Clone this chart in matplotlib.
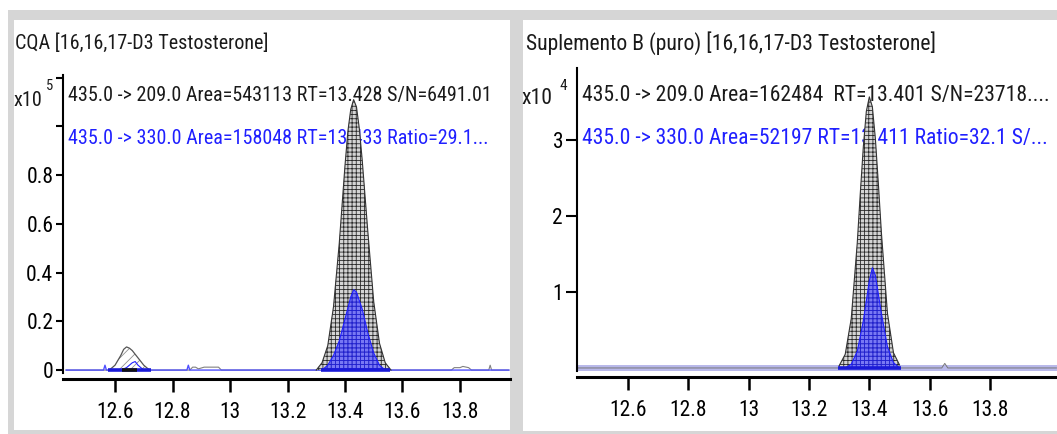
import matplotlib.pyplot as plt
from matplotlib.patches import Rectangle

W, H = 1057, 434
plt.rcParams['font.family'] = ['Roboto Condensed', 'DejaVu Sans']
plt.rcParams['font.stretch'] = 'condensed'
plt.rcParams['hatch.linewidth'] = 0.6

# ---- CQA panel (intensity x10^5) ----
cqa_title = 'CQA [16,16,17-D3 Testosterone]'
cqa_line1 = '435.0 -> 209.0 Area=543113 RT=13.428 S/N=6491.01'
cqa_line2 = '435.0 -> 330.0 Area=158048 RT=13.433 Ratio=29.1...'
cqa_q_t = [13.30, 13.32, 13.34, 13.36, 13.38, 13.40, 13.41, 13.42, 13.43, 13.44, 13.45, 13.46, 13.48, 13.50, 13.52, 13.54, 13.56]
cqa_q_i = [0.00, 0.03, 0.10, 0.26, 0.52, 0.84, 0.98, 1.07, 1.11, 1.08, 0.99, 0.86, 0.56, 0.28, 0.11, 0.03, 0.00]
cqa_ql_t = [13.32, 13.34, 13.36, 13.38, 13.40, 13.42, 13.43, 13.44, 13.46, 13.48, 13.50, 13.52, 13.54]
cqa_ql_i = [0.00, 0.02, 0.06, 0.12, 0.21, 0.30, 0.33, 0.32, 0.25, 0.15, 0.07, 0.02, 0.00]
cqa_small_t = [12.58, 12.60, 12.62, 12.63, 12.64, 12.65, 12.66, 12.68, 12.70, 12.72]
cqa_small_i = [0.00, 0.02, 0.06, 0.085, 0.095, 0.09, 0.08, 0.05, 0.02, 0.00]
cqa_small_ql_t = [12.62, 12.64, 12.66, 12.67, 12.68, 12.70]
cqa_small_ql_i = [0.00, 0.01, 0.03, 0.035, 0.02, 0.00]
cqa_noise_t = [12.43, 12.86, 12.87, 12.88, 12.89, 12.91, 12.92, 12.96, 12.97, 13.77, 13.78, 13.80, 13.81, 13.83, 13.84, 13.90, 13.905, 13.91, 13.97]
cqa_noise_i = [0, 0, 0.012, 0.012, 0.005, 0.012, 0.012, 0.012, 0, 0, 0.01, 0.01, 0.015, 0.01, 0, 0, 0.02, 0, 0]
cqa_base_t = [12.43, 12.56, 12.565, 12.57, 12.85, 12.855, 12.86, 13.97]
cqa_base_i = [0, 0, 0.02, 0, 0, 0.02, 0, 0]
cqa_integ = [(12.575, 12.725), (13.315, 13.555)]

# ---- Suplemento B panel (intensity x10^4) ----
sup_title = 'Suplemento B (puro) [16,16,17-D3 Testosterone]'
sup_line1 = '435.0 -> 209.0 Area=162484  RT=13.401 S/N=23718....'
sup_line2 = '435.0 -> 330.0 Area=52197 RT=13.411 Ratio=32.1 S/...'
sup_q_t = [13.30, 13.32, 13.34, 13.36, 13.37, 13.38, 13.39, 13.40, 13.41, 13.42, 13.43, 13.44, 13.46, 13.48, 13.50]
sup_q_i = [0.03, 0.18, 0.65, 1.65, 2.30, 2.91, 3.38, 3.57, 3.44, 3.02, 2.42, 1.78, 0.72, 0.20, 0.04]
sup_ql_t = [13.32, 13.34, 13.36, 13.38, 13.40, 13.41, 13.42, 13.44, 13.46, 13.48, 13.50]
sup_ql_i = [0.00, 0.05, 0.22, 0.62, 1.15, 1.32, 1.22, 0.72, 0.28, 0.07, 0.00]
sup_noise_t = [12.43, 13.64, 13.65, 13.66, 14.02]
sup_noise_i = [0, 0, 0.06, 0, 0]
sup_integ = [(13.295, 13.505)]

xticks = [12.6, 12.8, 13.0, 13.2, 13.4, 13.6, 13.8]
xlabels = ['12.6', '12.8', '13', '13.2', '13.4', '13.6', '13.8']

BLUE = '#2020ff'
FS = 14.5
FS_R = 15.6


def fx(x):
    return x / W


def fy(y):
    return 1 - y / H


fig = plt.figure(figsize=(W / 100, H / 100), dpi=100, facecolor='white')
fig.patches.append(Rectangle((fx(8), 0), fx(1049), 424 / H, transform=fig.transFigure,
                             facecolor='#d6d6d6', edgecolor='none', zorder=-3))
fig.patches.append(Rectangle((fx(14), 4 / H), fx(496), 410 / H, transform=fig.transFigure,
                             facecolor='white', edgecolor='none', zorder=-2))
fig.patches.append(Rectangle((fx(523), 3 / H), fx(534), 411 / H, transform=fig.transFigure,
                             facecolor='white', edgecolor='none', zorder=-2))


def setup(ax, xlim, ylim):
    ax.set_facecolor('none')
    ax.set_xlim(*xlim)
    ax.set_ylim(*ylim)
    for s in ['top', 'right']:
        ax.spines[s].set_visible(False)
    ax.spines['left'].set_linewidth(1.5)
    ax.spines['bottom'].set_linewidth(2.2)
    ax.spines['bottom'].set_position(('outward', 4))
    ax.set_xticks(xticks, xlabels)
    ax.tick_params(axis='x', length=9, width=1.8, pad=8, labelsize=FS + 1)
    ax.tick_params(axis='y', length=5, width=1.5, pad=2, labelsize=FS + 1)


def peak(ax, t, i, face, hatch_col, line_col, z):
    ax.fill_between(t, i, 0, facecolor=face, edgecolor=hatch_col, hatch='++++', linewidth=0, zorder=z)
    ax.plot(t, i, color=line_col, lw=0.8, zorder=z + 0.1)


def label(ax, x, y, s, **kw):
    ax.text(fx(x), fy(y), s, transform=fig.transFigure, va='center', ha='left',
            clip_on=False, zorder=1, **kw)


# left panel
ax1 = fig.add_axes([fx(63), fy(373), fx(447), 298 / H])
setup(ax1, (12.419, 13.974), (-0.012, 1.211))
ax1.set_yticks([0, 0.2, 0.4, 0.6, 0.8, 1.0, 1.2], ['0', '0.2', '0.4', '0.6', '0.8', '', ''])
ax1.plot(cqa_noise_t, cqa_noise_i, color='#808080', lw=0.8, zorder=2)
ax1.fill_between(cqa_small_t, cqa_small_i, 0, facecolor='white', edgecolor='#909090',
                 hatch='///', linewidth=0, zorder=2)
ax1.plot(cqa_small_t, cqa_small_i, color='#555555', lw=0.9, zorder=2.1)
ax1.plot(cqa_small_ql_t, cqa_small_ql_i, color=BLUE, lw=0.8, zorder=2.2)
peak(ax1, cqa_q_t, cqa_q_i, '#d4d4d4', '#2a2a2a', '#333333', 3)
peak(ax1, cqa_ql_t, cqa_ql_i, (0.35, 0.35, 1.0, 0.75), '#2020d0', BLUE, 4)
ax1.plot(cqa_base_t, cqa_base_i, color='#5050ff', lw=1.0, zorder=2.5)
for a, b in cqa_integ:
    ax1.plot([a, b], [0, 0], color='#1a1ad8', lw=2.6, solid_capstyle='butt', zorder=5)
ax1.plot([12.625, 12.675], [0, 0], color='#111111', lw=2.6, solid_capstyle='butt', zorder=5.1)

label(ax1, 15, 43, cqa_title, fontsize=FS, color='#1a1a1a')
label(ax1, 13, 100, 'x10', fontsize=FS, color='#1a1a1a')
label(ax1, 46, 86, '5', fontsize=10.5, color='#1a1a1a')
label(ax1, 68, 96, cqa_line1, fontsize=FS, color='#1a1a1a')
label(ax1, 68, 138, cqa_line2, fontsize=FS, color=BLUE)

# right panel
ax2 = fig.add_axes([fx(577), fy(371), fx(480), 303 / H])
setup(ax2, (12.431, 14.022), (-0.04, 3.95))
ax2.set_yticks([1, 2, 3], ['1', '2', '3'])
ax2.tick_params(axis='y', length=8)
ax2.plot(sup_noise_t, [0] * len(sup_noise_t), color='#b8b8ea', lw=5, zorder=1.5)
ax2.plot(sup_noise_t, sup_noise_i, color='#777777', lw=0.7, zorder=1.6)
peak(ax2, sup_q_t, sup_q_i, '#d4d4d4', '#2a2a2a', '#333333', 3)
peak(ax2, sup_ql_t, sup_ql_i, (0.35, 0.35, 1.0, 0.75), '#2020d0', BLUE, 4)
for a, b in sup_integ:
    ax2.plot([a, b], [0, 0], color='#1a1ad8', lw=2.6, solid_capstyle='butt', zorder=5)

label(ax2, 526, 43, sup_title, fontsize=FS_R, color='#1a1a1a')
label(ax2, 521, 99, 'x10', fontsize=FS_R, color='#1a1a1a')
label(ax2, 559, 86, '4', fontsize=11, color='#1a1a1a')
label(ax2, 582, 96, sup_line1, fontsize=FS_R, color='#1a1a1a')
label(ax2, 582, 138, sup_line2, fontsize=FS_R, color=BLUE)

fig.savefig('out.png', dpi=100)
